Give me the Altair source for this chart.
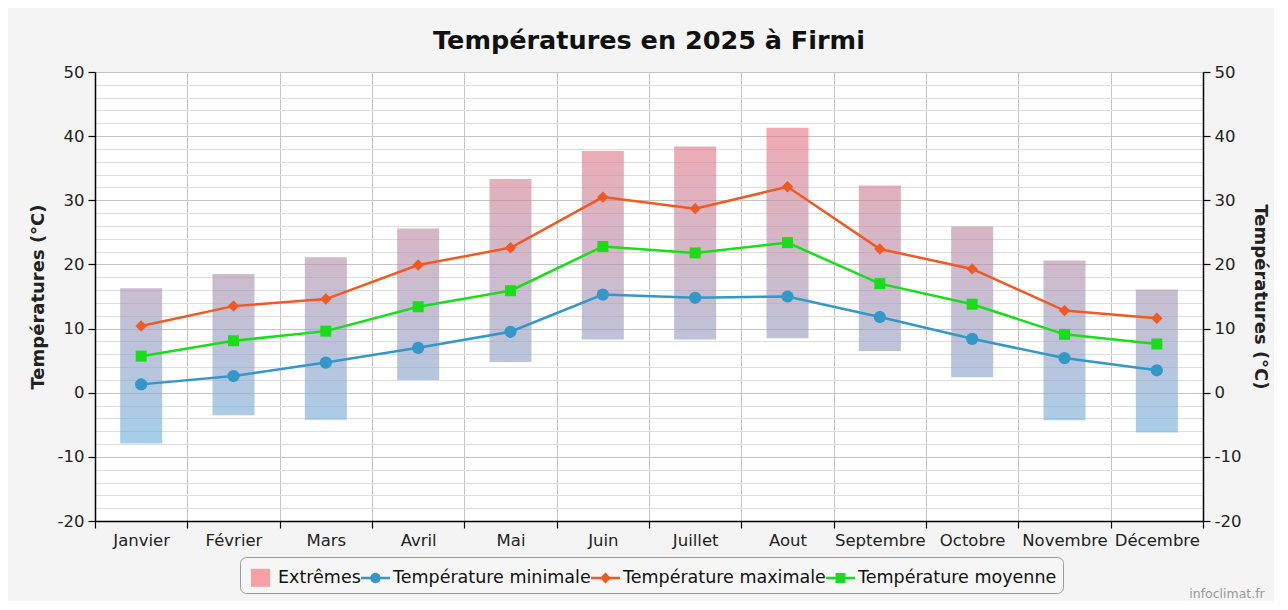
import altair as alt
import pandas as pd

# ---- data ----
mois = ["Janvier", "Février", "Mars", "Avril", "Mai", "Juin", "Juillet",
        "Aout", "Septembre", "Octobre", "Novembre", "Décembre"]
ext_bas = [-7.9, -3.5, -4.2, 2.0, 4.8, 8.3, 8.3, 8.5, 6.5, 2.4, -4.3, -6.2]
ext_haut = [16.3, 18.5, 21.1, 25.6, 33.3, 37.7, 38.4, 41.3, 32.3, 25.9, 20.6, 16.1]
t_min = [1.3, 2.6, 4.7, 7.0, 9.5, 15.3, 14.8, 15.0, 11.8, 8.4, 5.4, 3.5]
t_max = [10.4, 13.5, 14.6, 19.9, 22.6, 30.5, 28.7, 32.1, 22.4, 19.3, 12.8, 11.6]
t_moy = [5.7, 8.1, 9.6, 13.4, 15.9, 22.8, 21.8, 23.4, 17.0, 13.8, 9.1, 7.6]

series = ["Extrêmes", "Température minimale", "Température maximale", "Température moyenne"]
y_ticks = [-20, -10, 0, 10, 20, 30, 40, 50]
y_minor = list(range(-20, 51, 2))
titre = "Températures en 2025 à Firmi"
axe_titre = "Températures (°C)"
credit = ["infoclimat.fr"]

# ---- styles ----
FONT = "DejaVu Sans"
C_EXT = "#f5a0a2"
C_MIN = "#3597c8"
C_MAX = "#f05a22"
C_MOY = "#19dd19"

df = pd.DataFrame({"mois": mois, "bas": ext_bas, "haut": ext_haut,
                   "tmin": t_min, "tmax": t_max, "tmoy": t_moy})

xscale = alt.Scale(domain=mois, paddingInner=0, paddingOuter=0)
xaxis = alt.Axis(title=None, labelAngle=0, tickBand="extent", grid=True,
                 gridColor="#c4c4c4", tickSize=7, labelPadding=4)
X = alt.X("mois:N", scale=xscale, axis=xaxis)
yscale = alt.Scale(domain=[-20, 50], nice=False, zero=False)

left_axis = alt.Axis(
    title=axe_titre, values=y_minor, grid=True,
    labelExpr="datum.value % 10 === 0 ? replace(datum.label, '\u2212', '-') : ''",
    tickColor={"condition": {"test": "datum.value % 10 !== 0", "value": "transparent"}, "value": "black"},
    gridColor={"condition": {"test": "datum.value % 10 === 0", "value": "#c6c6c6"}, "value": "#dedede"},
    tickSize=7, labelPadding=4, titlePadding=10,
)
right_axis = alt.Axis(title=axe_titre, values=y_ticks, grid=False, orient="right",
                      labelExpr="replace(datum.label, '\u2212', '-')",
                      titleAngle=90, tickSize=7, labelPadding=4, titlePadding=10)

# gradient colour by temperature (blue cold -> pink hot), drawn with opacity
COLD = (110, 177, 223)
HOT = (230, 118, 132)
T_COLD, T_HOT = -8.0, 41.0


def col(t):
    f = min(1.0, max(0.0, (t - T_COLD) / (T_HOT - T_COLD)))
    rgb = [round(c0 + (c1 - c0) * f) for c0, c1 in zip(COLD, HOT)]
    return "#%02x%02x%02x" % tuple(rgb)


layers = []
for i, m in enumerate(mois):
    grad = alt.Gradient(gradient="linear", x1=0, x2=0, y1=0, y2=1,
                        stops=[alt.GradientStop(offset=0, color=col(ext_haut[i])),
                               alt.GradientStop(offset=1, color=col(ext_bas[i]))])
    layers.append(
        alt.Chart(df).transform_filter(alt.datum.mois == m)
        .mark_bar(width=alt.RelativeBandSize(0.455), opacity=0.62, color=grad)
        .encode(x=X,
                y=alt.Y("haut:Q", scale=yscale, axis=left_axis if i == 0 else None),
                y2="bas:Q")
    )

specs = [("tmin", C_MIN, "circle", 150), ("tmax", C_MAX, "diamond", 130), ("tmoy", C_MOY, "square", 121)]
for field, c, shp, sz in specs:
    layers.append(alt.Chart(df).mark_line(color=c, strokeWidth=2.5)
                  .encode(x=X, y=alt.Y(f"{field}:Q", scale=yscale, axis=None)))
for field, c, shp, sz in specs:
    layers.append(alt.Chart(df).mark_point(color=c, filled=True, opacity=1, shape=shp, size=sz)
                  .encode(x=X, y=alt.Y(f"{field}:Q", scale=yscale, axis=None)))

# right axis carrier (invisible)
layers.append(alt.Chart(df).mark_point(opacity=0)
              .encode(x=X, y=alt.Y("tmoy:Q", scale=yscale, axis=right_axis)))

# legend carrier
seg = "M-1,-0.085H-0.25V0.085H-1Z M0.25,-0.085H1V0.085H0.25Z "
p_ext = "M-0.66,-0.62H0.66V0.62H-0.66Z"
p_min = seg + "M-0.36,0A0.36,0.36 0 1,1 0.36,0A0.36,0.36 0 1,1 -0.36,0Z"
p_max = seg + "M0,-0.38L0.38,0L0,0.38L-0.38,0Z"
p_moy = seg + "M-0.34,-0.34H0.34V0.34H-0.34Z"
leg = alt.Legend(title=None, orient="none", legendX=145, legendY=485, direction="horizontal",
                 columns=4, labelFont=FONT, labelFontSize=17.5, labelColor="#111",
                 symbolSize=841, symbolStrokeWidth=0, strokeColor="#9a9a9a",
                 cornerRadius=6, padding=6, columnPadding=-7, labelOffset=3,
                 fillColor="#f6f6f6", labelLimit=400)
leg_df = pd.DataFrame({"serie": series})
layers.append(
    alt.Chart(leg_df).mark_point(filled=True, opacity=1, clip=True)
    .encode(x=alt.value(-60), y=alt.value(-60),
            color=alt.Color("serie:N", scale=alt.Scale(domain=series, range=[C_EXT, C_MIN, C_MAX, C_MOY]), legend=leg),
            shape=alt.Shape("serie:N", scale=alt.Scale(domain=series, range=[p_ext, p_min, p_max, p_moy]), legend=leg))
)

# credit
layers.append(
    alt.Chart(pd.DataFrame({"t": credit})).mark_text(font=FONT, fontSize=12.5, color="#999", align="center", baseline="bottom")
    .encode(text="t:N", x=alt.value(1132), y=alt.value(529))
)

chart = (
    alt.layer(*layers)
    .resolve_axis(y="independent")
    .properties(width=1108, height=449,
                title=alt.TitleParams(titre, font=FONT, fontSize=25.5, fontWeight="bold", color="#111", offset=10),
                padding={"left": 21, "top": 20, "right": 5, "bottom": 0},
                background="#f4f4f4")
    .configure_view(stroke="#bbbbbb", fill="white")
    .configure_axis(labelFont=FONT, labelFontSize=16.5, labelColor="#222",
                    titleFont=FONT, titleFontSize=18, titleFontWeight="bold", titleColor="#222",
                    domainColor="black", domainWidth=1.5, tickColor="black", tickWidth=1.2)
)

chart.save("out.html", embed_options={"renderer": "svg", "actions": False})
